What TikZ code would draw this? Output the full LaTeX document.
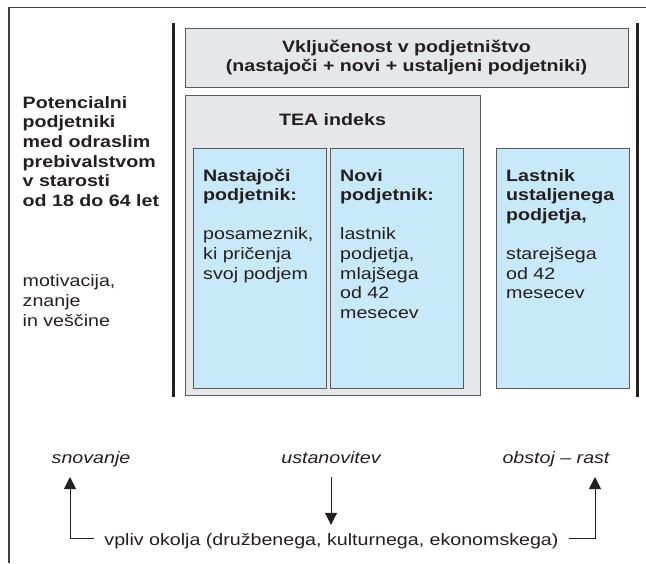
\documentclass[tikz,border=0pt]{standalone}
\usepackage{fontspec}
\setmainfont[FakeStretch=1.19]{Liberation Sans}
\usepackage{xcolor}
\usepackage{tikz}
\usetikzlibrary{arrows.meta}
\usetikzlibrary{positioning}
\definecolor{boxgray}{RGB}{230,231,232}
\definecolor{boxblue}{RGB}{200,233,249}
\definecolor{boxline}{RGB}{88,89,91}
\definecolor{ink}{RGB}{35,31,32}
\tikzset{
    greybox/.style={
      rectangle,
      draw=boxline, fill=boxgray,
      line width=1pt,
      inner sep=0pt,
    },
    bluebox/.style={
      rectangle,
      draw=boxline, fill=boxblue,
      line width=1pt,
      inner sep=0pt,
    },
    txt/.style={
      inner sep=0pt,
      align=left,
      text=ink,
      font=\fontsize{16.5}{19.6}\selectfont,
    },
    bar/.style={line width=3pt, draw=ink},
    flow/.style={-{Triangle[width=12pt,length=12pt]}, line width=1pt, draw=ink},
}

\begin{document}
\begin{tikzpicture}[x=1pt,y=-1pt]

    \useasboundingbox (0,0) rectangle (646,563);

    % outer frame (only top and left edge visible)
    \draw[line width=1.2pt, draw=black!75] (9,563) -- (9,7.5) -- (646,7.5);

    % thick bars
    \draw[bar] (173,23) -- (173,397);
    \draw[bar] (637,23) -- (637,397);

    \node[greybox, minimum width=443pt, minimum height=59pt,
      align=center, text=ink, font=\bfseries\fontsize{16.5}{18.5}\selectfont] (VKLJ) at (406.5,57.5)
    {
      Vključenost v podjetništvo\\
      (nastajoči + novi + ustaljeni podjetniki)
    };

    \node[greybox, minimum width=295pt, minimum height=300pt] (TEA) at (332.5,245) {};
    \node[txt, anchor=base, font=\bfseries\fontsize{16.5}{19.6}\selectfont] (TEAT) at (332.5,125) {TEA indeks};

    \node[bluebox, minimum width=133pt, minimum height=240pt] (NAST) at (259.5,268) {};
    \node[bluebox, minimum width=133pt, minimum height=240pt] (NOVI) at (396.5,268) {};
    \node[bluebox, minimum width=133pt, minimum height=240pt] (LAST) at (562.5,268) {};

    % multi-line texts: base = baseline of the last line
    \node[txt, anchor=base west] (NASTT) at (203,279)
    {
      \textbf{Nastajoči}\\
      \textbf{podjetnik:}\\[19.6pt]
      posameznik,\\
      ki pričenja\\
      svoj podjem
    };

    \node[txt, anchor=base west] (NOVIT) at (340,318.2)
    {
      \textbf{Novi}\\
      \textbf{podjetnik:}\\[19.6pt]
      lastnik\\
      podjetja,\\
      mlajšega\\
      od 42\\
      mesecev
    };

    \node[txt, anchor=base west] (LASTT) at (506,298.6)
    {
      \textbf{Lastnik}\\
      \textbf{ustaljenega}\\
      \textbf{podjetja,}\\[19.6pt]
      starejšega\\
      od 42\\
      mesecev
    };

    \node[txt, anchor=base west, font=\bfseries\fontsize{16.5}{19.7}\selectfont] (POT) at (22.5,206.5)
    {
      Potencialni\\
      podjetniki\\
      med odraslim\\
      prebivalstvom\\
      v starosti\\
      od 18 do 64 let
    };

    \node[txt, anchor=base west] (MOT) at (22.5,326)
    {
      motivacija,\\
      znanje\\
      in veščine
    };

    % phases
    \node[txt, anchor=base, font=\itshape\fontsize{16.5}{19.6}\selectfont] (SNOV) at (91,463) {snovanje};
    \node[txt, anchor=base, font=\itshape\fontsize{16.5}{19.6}\selectfont] (USTAN) at (331,463) {ustanovitev};
    \node[txt, anchor=base, font=\itshape\fontsize{16.5}{19.6}\selectfont] (OBST) at (556,463) {obstoj -- rast};

    \node[txt, anchor=base, inner xsep=10pt] (VPLIV) at (331.5,545)
    {vpliv okolja (družbenega, kulturnega, ekonomskega)};

    \coordinate (SNOVTIP) at (70,477);
    \coordinate (OBSTTIP) at (595,477);

    \draw[flow] ([yshift=2.5pt]VPLIV.west) -| (SNOVTIP);
    \draw[flow] ([yshift=2.5pt]VPLIV.east) -| (OBSTTIP);
    \draw[flow] (USTAN.south |- SNOVTIP) -- ([yshift=8pt]USTAN.south |- VPLIV.north);

\end{tikzpicture}
\end{document}
